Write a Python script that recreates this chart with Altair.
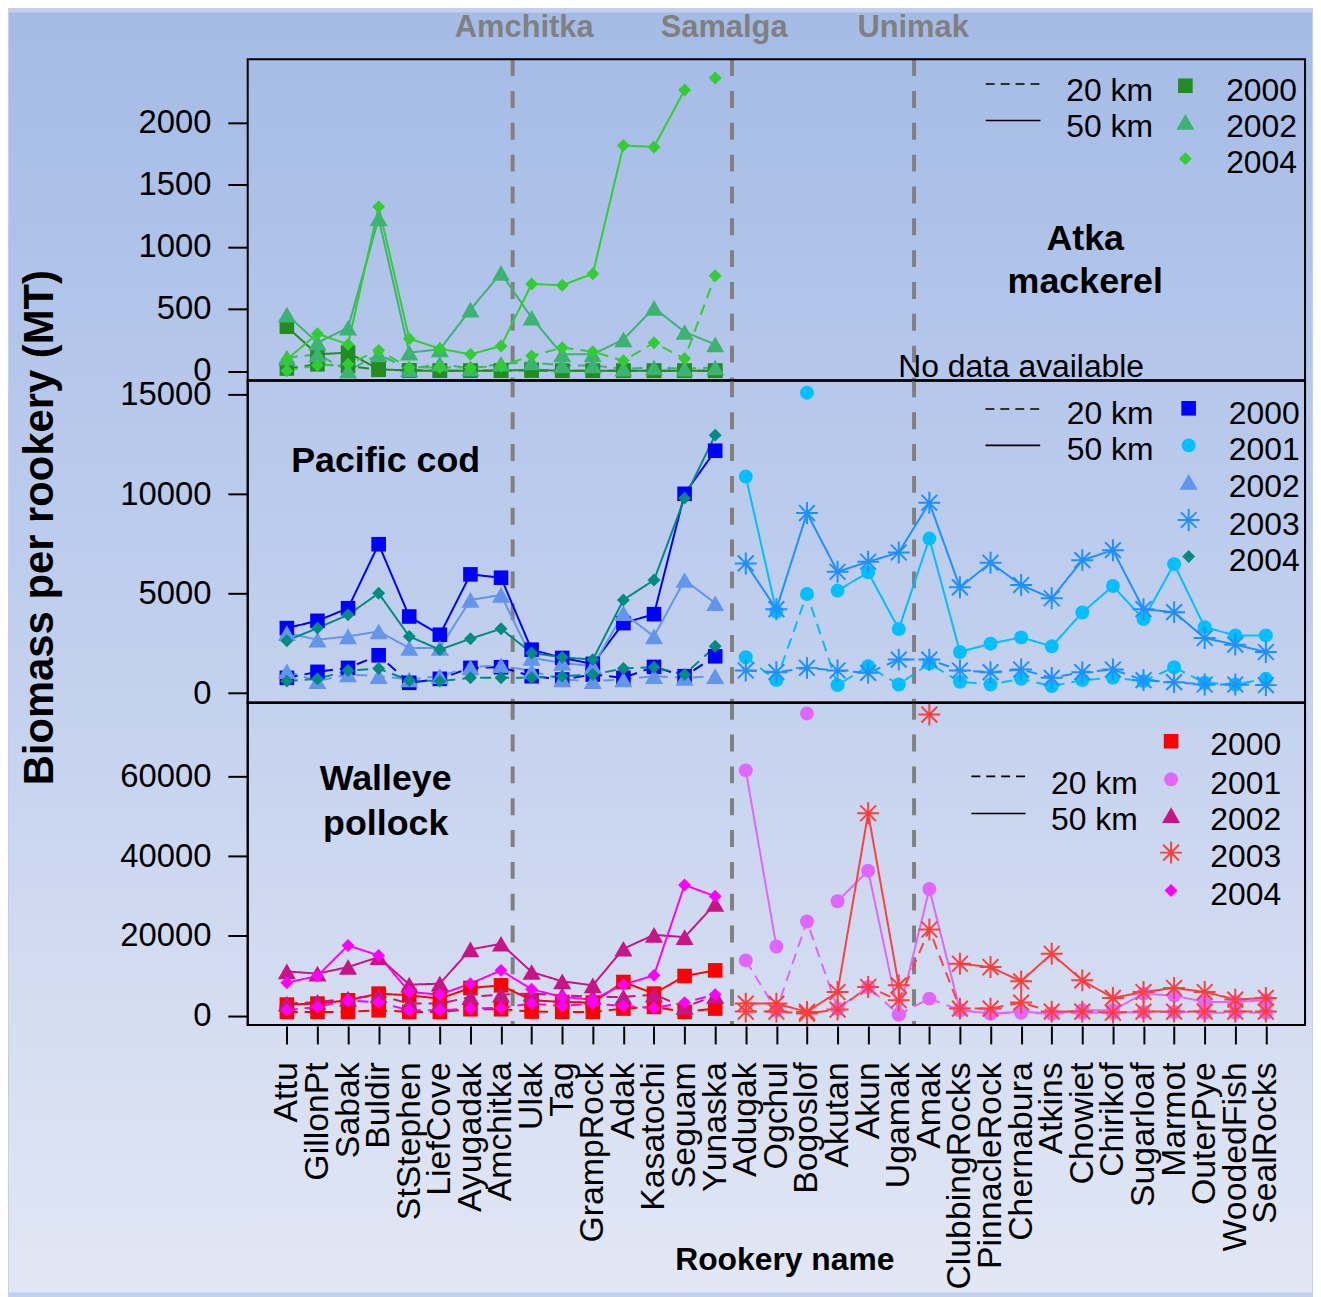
import altair as alt
import pandas as pd

# ---------------- data ----------------
ROOKERIES = ["Attu", "GillonPt", "Sabak", "Buldir", "StStephen", "LiefCove",
             "Ayugadak", "Amchitka", "Ulak", "Tag", "GrampRock", "Adak",
             "Kasatochi", "Seguam", "Yunaska", "Adugak", "Ogchul", "Bogoslof",
             "Akutan", "Akun", "Ugamak", "Amak", "ClubbingRocks", "PinnacleRock",
             "Chernabura", "Atkins", "Chowiet", "Chirikof", "Sugarloaf", "Marmot",
             "OuterPye", "WoodedFish", "SealRocks"]
WEST_START = 0    # Attu .. Yunaska
EAST_START = 15   # Adugak .. SealRocks

PASS_NAMES = ["Amchitka", "Samalga", "Unimak"]
PASS_POSITIONS = [7.38, 14.55, 20.5]
DISTANCES = ["20 km", "50 km"]

# Atka mackerel (MT)
ATKA_2000_20 = [20, 54, 40, 10, 5, 3, 3, 5, 3, 2, 2, 2, 2, 2, 2]
ATKA_2000_50 = [356, 134, 148, 14, 4, 2, 2, 2, 10, 2, 2, 2, 2, 2, 2]
ATKA_2002_20 = [108, 134, 2, 134, 15, 58, 20, 58, 70, 45, 45, 18, 28, 18, 28]
ATKA_2002_50 = [454, 228, 348, 1228, 148, 174, 494, 788, 428, 134, 134, 254, 508, 314, 214]
ATKA_2004_20 = [2, 46, 54, 166, 28, 28, 28, 41, 122, 188, 156, 82, 228, 100, 766]
ATKA_2004_50 = [94, 300, 214, 1322, 260, 180, 134, 201, 700, 690, 782, 1814, 1802, 2260, None]
ATKA_OFFSCALE = [(2004, "50 km", "Yunaska", 2356)]

# Pacific cod (MT)
COD_2000_20 = [767, 1067, 1267, 1900, 517, 717, 1267, 1300, 850, 683, 933, 767, 1317, 850, 1850]
COD_2000_50 = [3267, 3633, 4267, 7483, 3850, 2933, 5967, 5800, 2183, 1767, 1467, 3517, 3967, 10017, 12183]
COD_2002_20 = [1100, 600, 933, 850, 683, 850, 1300, 1400, 1100, 683, 600, 683, 850, 767, 850]
COD_2002_50 = [3017, 2683, 2850, 3100, 2267, 2267, 4683, 4933, 1767, 1517, 1350, 4017, 2850, 5683, 4517]
COD_2004_20 = [600, 717, 1133, 1233, 633, 600, 767, 767, 767, 850, 933, 1233, 1300, 933, 2350]
COD_2004_50 = [2633, 3267, 3933, 5017, 2850, 2183, 2733, 3233, 2017, 1800, 1683, 4683, 5683, 9800, 12967]
COD_2001_20 = [1800, 650, 4983, 400, 1350, 433, 1483, 567, 433, 717, 350, 650, 767, 600, 1300, 517, 433, 717]
COD_2001_50 = [10883, 4100, None, 5150, 6067, 3217, 7767, 2067, 2483, 2800, 2350, 4050, 5383, 3717, 6483, 3317, 2900, 2900]
COD_2003_20 = [1133, 1050, 1267, 1133, 1017, 1683, 1683, 1133, 1050, 1183, 767, 1050, 1183, 650, 550, 433, 433, 400]
COD_2003_50 = [6517, 4217, 9050, 6100, 6600, 7067, 9567, 5317, 6550, 5433, 4767, 6683, 7183, 4217, 4067, 2767, 2433, 2067]
COD_OFFSCALE = [(2001, "50 km", "Bogoslof", 15100)]

# Walleye pollock (MT)
POL_2000_20 = [917, 917, 917, 1333, 917, 917, 1583, 1583, 1000, 917, 917, 1750, 2167, 917, 1750]
POL_2000_50 = [2750, 3000, 3833, 5500, 5083, 4250, 6917, 7583, 3833, 3417, 3250, 8417, 5500, 9917, 11333]
POL_2002_20 = [3000, 3417, 4250, 5083, 3000, 3000, 4667, 5250, 5500, 5083, 4667, 4667, 5250, 2167, 4917]
POL_2002_50 = [11083, 10500, 12167, 14667, 7750, 8000, 16583, 18000, 10917, 8583, 7583, 16750, 20250, 19667, 28000]
POL_2004_20 = [1333, 2167, 3833, 3250, 1333, 1333, 1750, 1917, 3000, 2417, 3000, 2417, 1917, 3250, 5250]
POL_2004_50 = [8250, 9917, 17583, 15083, 5917, 5250, 8000, 11333, 6583, 4667, 4000, 7750, 10083, 32750, 29917]
POL_2001_20 = [13833, 1333, 23583, 1750, 7167, 250, 4250, 1333, 500, 700, 500, 700, 700, 900, 900, 700, 700, 700]
POL_2001_50 = [61500, 17333, None, 28667, 36333, 250, 31750, 1333, 500, 1000, 500, 1333, 1333, 5500, 5000, 3417, 3417, 3833]
POL_2003_20 = [1000, 1000, 500, 1500, 7167, 3833, 21583, 1750, 1750, 3250, 1000, 1000, 750, 1000, 1000, 1000, 1000, 1000]
POL_2003_50 = [3000, 3000, 917, 5917, 50750, 7583, None, 13000, 12167, 8583, 15500, 8833, 4417, 5917, 6917, 5917, 4000, 4417]
POL_OFFSCALE = [(2001, "50 km", "Bogoslof", 75750), (2003, "50 km", "Amak", 75500)]

ATKA_TICKS = [0, 500, 1000, 1500, 2000]
COD_TICKS = [0, 5000, 10000, 15000]
POL_TICKS = [0, 20000, 40000, 60000]

# ---------------- styling ----------------
FONT = "Liberation Sans"
ATKA_COLORS = {2000: "#228B22", 2002: "#3CB371", 2004: "#32CD32"}
COD_COLORS = {2000: "#0000FF", 2001: "#00BFFF", 2002: "#6495ED", 2003: "#1E90FF", 2004: "#008B80"}
POL_COLORS = {2000: "#FF0000", 2001: "#E066FF", 2002: "#C71585", 2003: "#FF3E3E", 2004: "#FF00FF"}
ASTERISK = "M0,-1L0,1M-1,0L1,0M-0.72,-0.72L0.72,0.72M-0.72,0.72L0.72,-0.72"
SHAPES = {2000: "square", 2001: "circle", 2002: "triangle-up", 2003: ASTERISK, 2004: "diamond"}
SIZES = {2000: 215, 2001: 196, 2002: 330, 2003: 484, 2004: 169}
XDOM = [-1.28, 33.28]
W = 1063
DUMMY = pd.DataFrame({"d": [0]})


def build(series, offscale, colors):
    line_rows, pt_rows = [], []
    for year, dist, start, values in series:
        seg = 0
        for i, v in enumerate(values):
            if v is None:
                seg += 1
                continue
            line_rows.append({"idx": start + i, "value": v, "year": year, "dist": dist,
                              "seg": f"{year}-{dist}-{seg}"})
    for year, dist, name, v in offscale:
        pt_rows.append({"idx": ROOKERIES.index(name), "value": v, "year": year, "dist": dist,
                        "seg": "off"})
    lines = pd.DataFrame(line_rows)
    lines["color"] = lines["year"].map(colors)
    pts = pd.DataFrame(line_rows + pt_rows)
    pts["color"] = pts["year"].map(colors)
    pts["shape"] = pts["year"].map(SHAPES)
    pts["size"] = pts["year"].map(SIZES)
    pts = pts.sort_values("year", kind="stable")
    return lines, pts


def text(t, x, y, size=32, bold=False, align="left", color="black", angle=0, baseline="alphabetic"):
    return alt.Chart(DUMMY).mark_text(
        text=t, fontSize=size, font=FONT, fontWeight="bold" if bold else "normal",
        align=align, baseline=baseline, color=color, angle=angle
    ).encode(x=alt.value(x), y=alt.value(y))


def legend(years, colors, lx0, lx1, line_ys, km_x, km_ys, mx, mys, yx, yys):
    layers = []
    for dash, ly in zip([[9, 6], [1, 0]], line_ys):
        layers.append(alt.Chart(DUMMY).mark_rule(color="black", strokeWidth=1.6, strokeDash=dash)
                      .encode(x=alt.value(lx0), x2=alt.value(lx1), y=alt.value(ly)))
    for lab, ky in zip(DISTANCES, km_ys):
        layers.append(text(lab, km_x, ky))
    for yr, my, ty in zip(years, mys, yys):
        layers.append(alt.Chart(DUMMY).mark_point(
            shape=SHAPES[yr], filled=(yr != 2003), size=SIZES[yr], color=colors[yr],
            opacity=1, strokeWidth=2).encode(x=alt.value(mx), y=alt.value(my)))
        layers.append(text(str(yr), yx, ty))
    return layers


def panel(lines, pts, ydom, yticks, height, show_x, pre=None, post=None):
    xscale = alt.Scale(domain=XDOM, nice=False, zero=False)
    if show_x:
        names = ",".join(f"'{n}'" for n in ROOKERIES)
        xaxis = alt.Axis(values=list(range(len(ROOKERIES))), labelExpr=f"[{names}][datum.value]",
                         labelAngle=270, labelAlign="right", labelBaseline="middle",
                         labelFontSize=34, labelFont=FONT, labelColor="black", labelLimit=500,
                         labelPadding=18, tickSize=18, tickWidth=2, tickColor="black",
                         offset=1, domain=False, grid=False, title=None, zindex=1,
                         labelOverlap=False, labelFlush=False, labelBound=False)
    else:
        xaxis = None
    yaxis = alt.Axis(values=yticks, format="d", labelFontSize=33, labelFont=FONT,
                     labelColor="black", labelPadding=17, tickSize=20, tickWidth=2,
                     tickColor="black", domain=False, grid=False, title=None, zindex=1,
                     labelOverlap=False, labelFlush=False, labelBound=False)
    yscale = alt.Scale(domain=ydom, nice=False, zero=False)
    x_enc = alt.X("idx:Q", scale=xscale, axis=xaxis, title=None)
    y_enc = alt.Y("value:Q", scale=yscale, axis=yaxis, title=None)

    rules = alt.Chart(pd.DataFrame({"pos": PASS_POSITIONS, "name": PASS_NAMES})).mark_rule(
        color="#808080", strokeWidth=4, strokeDash=[17, 15]
    ).encode(x=alt.X("pos:Q", scale=xscale, axis=xaxis, title=None))

    line_layer = alt.Chart(lines).mark_line(strokeWidth=2).encode(
        x=x_enc, y=y_enc, detail="seg:N",
        color=alt.Color("color:N", scale=None),
        strokeDash=alt.StrokeDash("dist:N", scale=alt.Scale(domain=DISTANCES, range=[[11, 7], [1, 0]]),
                                  legend=None),
    )
    filled = pts[pts["year"] != 2003]
    stars = pts[pts["year"] == 2003]
    pt_layers = [alt.Chart(filled).mark_point(filled=True, opacity=1).encode(
        x=x_enc, y=y_enc, color=alt.Color("color:N", scale=None),
        shape=alt.Shape("shape:N", scale=None), size=alt.Size("size:Q", scale=None))]
    if len(stars):
        pt_layers.append(alt.Chart(stars).mark_point(filled=False, opacity=1, strokeWidth=2).encode(
            x=x_enc, y=y_enc, color=alt.Color("color:N", scale=None),
            shape=alt.Shape("shape:N", scale=None), size=alt.Size("size:Q", scale=None)))
    border = alt.Chart(DUMMY).mark_rect(fill=None, stroke="black", strokeWidth=2).encode(
        x=alt.value(0), x2=alt.value(W), y=alt.value(0), y2=alt.value(height))
    layers = (pre or []) + [rules, line_layer] + pt_layers + (post or []) + [border]
    return alt.layer(*layers).properties(width=W, height=height)


# ---------------- panels ----------------
atka_lines, atka_pts = build([
    (2000, "20 km", WEST_START, ATKA_2000_20), (2000, "50 km", WEST_START, ATKA_2000_50),
    (2002, "20 km", WEST_START, ATKA_2002_20), (2002, "50 km", WEST_START, ATKA_2002_50),
    (2004, "20 km", WEST_START, ATKA_2004_20), (2004, "50 km", WEST_START, ATKA_2004_50),
], ATKA_OFFSCALE, ATKA_COLORS)

cod_lines, cod_pts = build([
    (2000, "20 km", WEST_START, COD_2000_20), (2000, "50 km", WEST_START, COD_2000_50),
    (2001, "20 km", EAST_START, COD_2001_20), (2001, "50 km", EAST_START, COD_2001_50),
    (2002, "20 km", WEST_START, COD_2002_20), (2002, "50 km", WEST_START, COD_2002_50),
    (2003, "20 km", EAST_START, COD_2003_20), (2003, "50 km", EAST_START, COD_2003_50),
    (2004, "20 km", WEST_START, COD_2004_20), (2004, "50 km", WEST_START, COD_2004_50),
], COD_OFFSCALE, COD_COLORS)

pol_lines, pol_pts = build([
    (2000, "20 km", WEST_START, POL_2000_20), (2000, "50 km", WEST_START, POL_2000_50),
    (2001, "20 km", EAST_START, POL_2001_20), (2001, "50 km", EAST_START, POL_2001_50),
    (2002, "20 km", WEST_START, POL_2002_20), (2002, "50 km", WEST_START, POL_2002_50),
    (2003, "20 km", EAST_START, POL_2003_20), (2003, "50 km", EAST_START, POL_2003_50),
    (2004, "20 km", WEST_START, POL_2004_20), (2004, "50 km", WEST_START, POL_2004_50),
], POL_OFFSCALE, POL_COLORS)

gradient = {"gradient": "linear", "x1": 0, "y1": 0, "x2": 0, "y2": 1,
            "stops": [{"offset": 0, "color": "#A4BBE6"},
                      {"offset": 0.5, "color": "#C2D0EE"},
                      {"offset": 1, "color": "#E2E7F4"}]}
bg = alt.Chart(DUMMY).mark_rect(fill=gradient, stroke=None).encode(
    x=alt.value(-240), x2=alt.value(1070), y=alt.value(-47), y2=alt.value(1240))

top_labels = [text(n, x, -46, size=31, bold=True, align="center", color="#808080", baseline="top")
              for n, x in zip(PASS_NAMES, [278, 479, 669])]

p1_post = (legend([2000, 2002, 2004], ATKA_COLORS, 742, 797, [25, 61.7], 823, [41.7, 78.3],
                  942.7, [26.7, 63, 100], 983.7, [41.7, 78.3, 114.3])
           + [text("Atka", 842, 191.7, size=36, bold=True, align="center"),
              text("mackerel", 842, 235, size=36, bold=True, align="center"),
              text("No data available", 654, 320, size=32)]
           + top_labels)
p1 = panel(atka_lines, atka_pts, [-76, 2508], ATKA_TICKS, 323, False, pre=[bg], post=p1_post)

p2_post = (legend([2000, 2001, 2002, 2003, 2004], COD_COLORS, 741.7, 796.7, [28.7, 65.3], 823.5,
                  [43.7, 80.3], 946, [28, 65.3, 102, 140.3, 177], 986.4,
                  [43.7, 80.3, 117, 155.3, 192])
           + [text("Pacific cod", 138.7, 92, size=36, bold=True, align="center"),
              text("Biomass per rookery (MT)", -196, 148, size=42, bold=True, align="center", angle=270)])
p2 = panel(cod_lines, cod_pts, [-485, 15715], COD_TICKS, 324, False, post=p2_post)

p3_post = (legend([2000, 2001, 2002, 2003, 2004], POL_COLORS, 727.5, 782, [74, 111.3], 807.7,
                  [91.3, 128], 928.3, [38.7, 77, 113, 150.7, 188.7], 967.8,
                  [53, 91.3, 128, 164.7, 203])
           + [text("Walleye", 138.7, 88, size=36, bold=True, align="center"),
              text("pollock", 138.7, 133, size=36, bold=True, align="center"),
              text("Rookery name", 540, 570, size=32, bold=True, align="center")])
p3 = panel(pol_lines, pol_pts, [-2370, 78468], POL_TICKS, 324, True, post=p3_post)

chart = alt.vconcat(p1, p2, p3, spacing=0, bounds="flush").resolve_scale(
    x="independent", y="independent"
).properties(padding=0, background="#C2D0EE").configure_view(stroke="black", strokeWidth=2)

chart.save("out.html", embed_options={"renderer": "svg", "actions": False})
